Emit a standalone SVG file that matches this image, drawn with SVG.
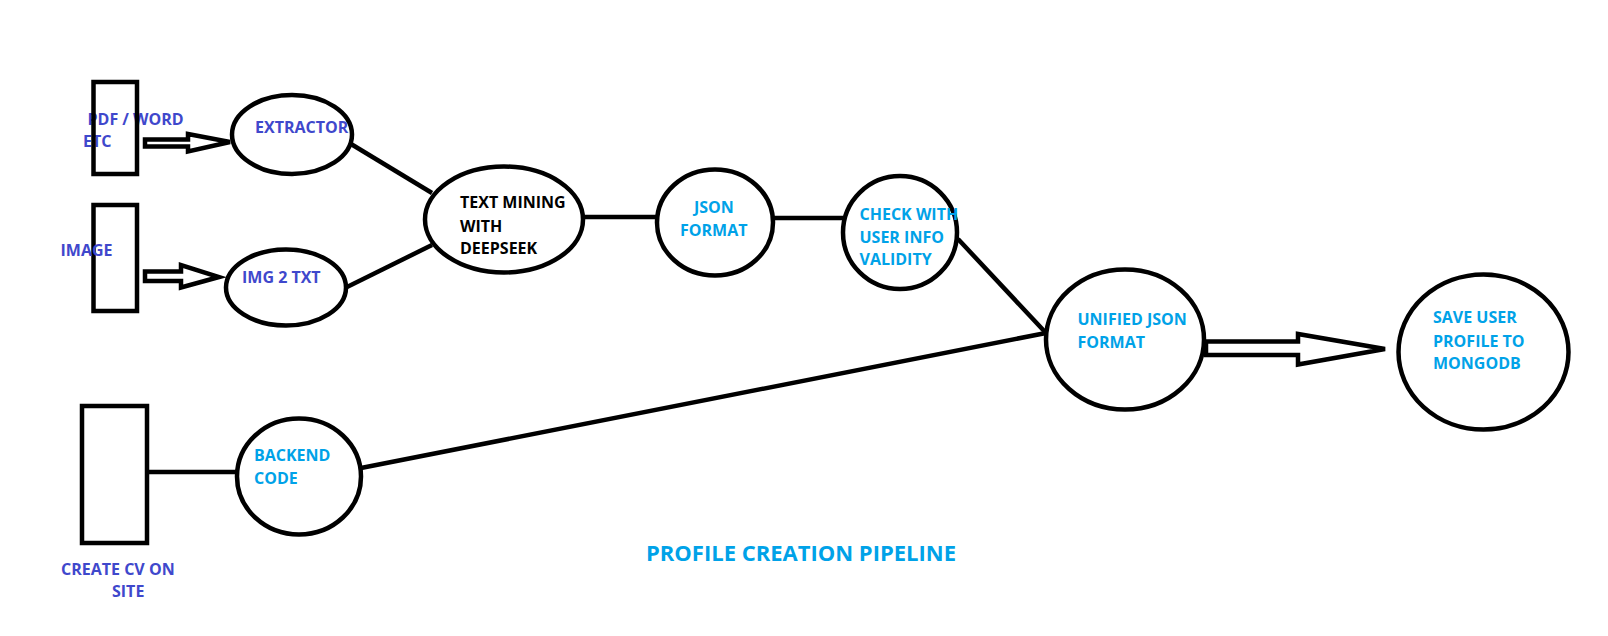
<svg xmlns="http://www.w3.org/2000/svg" width="1608" height="636" viewBox="0 0 1608 636">
<style>
.shape{fill:none;stroke:#000;stroke-width:4.5}
.line{fill:none;stroke:#000;stroke-width:4.5}
.arrow{fill:#fff;stroke:#000;stroke-width:4.5;stroke-linejoin:miter}
text{font-family:"Open Sans","Liberation Sans",sans-serif;font-weight:bold;font-size:16px}
.in{fill:#3F48CC}
.tq{fill:#00A2E8}
.bk{fill:#000}
.title{font-size:22px}
</style>
<rect width="1608" height="636" fill="#fff"/>
<g id="connectors">
<line class="line" x1="351" y1="144" x2="432" y2="193"/>
<line class="line" x1="347" y1="287" x2="432" y2="245"/>
<line class="line" x1="583" y1="217" x2="657" y2="217"/>
<line class="line" x1="773" y1="218" x2="843" y2="218"/>
<line class="line" x1="958" y1="239" x2="1046" y2="333"/>
<line class="line" x1="361" y1="468" x2="1046" y2="333"/>
<line class="line" x1="145" y1="472" x2="237" y2="472"/>
<polygon class="arrow" points="145,139.5 188,139.5 188,134 230,142 188,151.5 188,146.5 145,146.5"/>
<polygon class="arrow" points="145,271.5 181,271.5 181,265 219,277 181,287.5 181,281 145,281"/>
<polygon class="arrow" points="1206,341.5 1298,341.5 1298,334 1385,349 1298,364.5 1298,355 1206,355"/>
</g>
<g id="pdf-word">
<text class="in" x="87.5" y="125">PDF / WORD</text>
<text class="in" x="83" y="147">ETC</text>
<rect class="shape" x="93.5" y="82" width="43.5" height="92"/>
</g>
<g id="image">
<rect class="shape" x="93.5" y="205" width="43.5" height="106"/>
<text class="in" x="60.5" y="256">IMAGE</text>
</g>
<g id="create-cv">
<rect class="shape" x="82" y="406" width="65" height="137"/>
<text class="in" x="61" y="575">CREATE CV ON</text>
<text class="in" x="112" y="597">SITE</text>
</g>
<g id="extractor">
<ellipse class="shape" cx="292" cy="134.5" rx="60" ry="39.5"/>
<text class="in" x="255" y="133">EXTRACTOR</text>
</g>
<g id="img2txt">
<ellipse class="shape" cx="286" cy="287.5" rx="60" ry="38"/>
<text class="in" x="242" y="283">IMG 2 TXT</text>
</g>
<g id="text-mining">
<ellipse class="shape" cx="504" cy="219.5" rx="79" ry="53"/>
<text class="bk" x="460" y="208">TEXT MINING</text>
<text class="bk" x="460" y="231.5">WITH</text>
<text class="bk" x="460" y="254">DEEPSEEK</text>
</g>
<g id="json-format">
<ellipse class="shape" cx="715" cy="222.5" rx="58" ry="53"/>
<text class="tq" x="694" y="213">JSON</text>
<text class="tq" x="680" y="236">FORMAT</text>
</g>
<g id="check-validity">
<ellipse class="shape" cx="900" cy="232.5" rx="57" ry="56.5"/>
<text class="tq" x="859.5" y="220">CHECK WITH</text>
<text class="tq" x="859.5" y="243">USER INFO</text>
<text class="tq" x="859.5" y="265">VALIDITY</text>
</g>
<g id="unified-json">
<ellipse class="shape" cx="1125" cy="339.5" rx="79" ry="70"/>
<text class="tq" x="1077.5" y="325">UNIFIED JSON</text>
<text class="tq" x="1077.5" y="348">FORMAT</text>
</g>
<g id="save-mongodb">
<ellipse class="shape" cx="1483.5" cy="352" rx="85" ry="77.5"/>
<text class="tq" x="1433" y="323">SAVE USER</text>
<text class="tq" x="1433" y="346.5">PROFILE TO</text>
<text class="tq" x="1433" y="368.5">MONGODB</text>
</g>
<g id="backend-code">
<ellipse class="shape" cx="299" cy="476.5" rx="62" ry="58"/>
<text class="tq" x="254" y="460.5">BACKEND</text>
<text class="tq" x="254" y="483.5">CODE</text>
</g>
<text class="tq title" x="646" y="561">PROFILE CREATION PIPELINE</text>
</svg>
